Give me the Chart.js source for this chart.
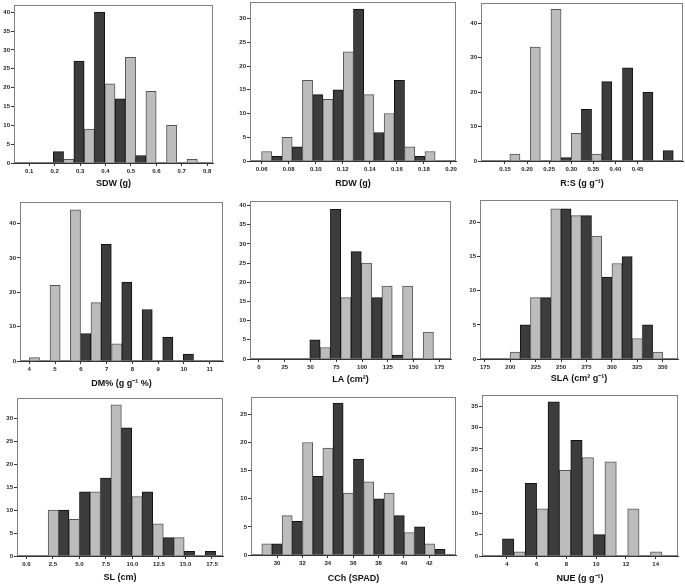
<!DOCTYPE html>
<html>
<head>
<meta charset="utf-8">
<script src="https://cdn.jsdelivr.net/npm/chart.js@4.4.1/dist/chart.umd.min.js"></script>
<style>
  html, body { margin: 0; padding: 0; background: #fff; overflow: hidden; }
  body { width: 685px; height: 584px; position: relative; }
  canvas { position: absolute; }
</style>
</head>
<body>
<script>
// bin centres and counts (dark = group 1, light = group 2)
const sdwBins = [0.235, 0.316, 0.397, 0.478, 0.559, 0.640, 0.721]
const sdwDark = [3, 27, 40, 17, 2, 0, 0]
const sdwLight = [1, 9, 21, 28, 19, 10, 1]
const sdwTicks = [0.1, 0.2, 0.3, 0.4, 0.5, 0.6, 0.7, 0.8]
const sdwYTicks = [0, 5, 10, 15, 20, 25, 30, 35, 40]

const rdwBins = [0.0675, 0.0826, 0.0977, 0.1128, 0.1279, 0.1430, 0.1581, 0.1732, 0.1883]
const rdwDark = [1, 3, 14, 15, 32, 6, 17, 1, 0]
const rdwLight = [2, 5, 17, 13, 23, 14, 10, 3, 2]
const rdwTicks = [0.06, 0.08, 0.10, 0.12, 0.14, 0.16, 0.18, 0.20]
const rdwYTicks = [0, 5, 10, 15, 20, 25, 30]

const rsBins = [0.184, 0.230, 0.277, 0.323, 0.369, 0.416, 0.462, 0.508]
const rsDark = [0, 0, 1, 15, 23, 27, 20, 3]
const rsLight = [2, 33, 44, 8, 2, 0, 0, 0]
const rsTicks = [0.15, 0.20, 0.25, 0.30, 0.35, 0.40, 0.45]
const rsYTicks = [0, 10, 20, 30, 40]

const dmBins = [4.40, 5.20, 5.99, 6.79, 7.59, 8.38, 9.18, 9.98]
const dmDark = [0, 0, 8, 34, 23, 15, 7, 2]
const dmLight = [1, 22, 44, 17, 5, 0, 0, 0]
const dmTicks = [4, 5, 6, 7, 8, 9, 10, 11]
const dmYTicks = [0, 10, 20, 30, 40]

const laBins = [59.3, 79.3, 99.3, 119.3, 139.3, 159.3]
const laDark = [5, 39, 28, 16, 1, 0]
const laLight = [3, 16, 25, 19, 19, 7]
const laTicks = [0, 25, 50, 75, 100, 125, 150, 175]
const laYTicks = [0, 5, 10, 15, 20, 25, 30, 35, 40]

const slaBins = [209.7, 229.8, 249.8, 269.9, 290.0, 310.0, 330.1, 350.2]
const slaDark = [5, 9, 22, 21, 12, 15, 5, 0]
const slaLight = [1, 9, 22, 21, 18, 14, 3, 1]
const slaTicks = [175, 200, 225, 250, 275, 300, 325, 350]
const slaYTicks = [0, 5, 10, 15, 20]

const slBins = [3.04, 5.01, 6.99, 8.96, 10.93, 12.91, 14.88, 16.86]
const slDark = [10, 14, 17, 28, 14, 4, 1, 1]
const slLight = [10, 8, 14, 33, 13, 7, 4, 0]
const slTicks = [0, 2.5, 5, 7.5, 10, 12.5, 15, 17.5]
const slYTicks = [0, 5, 10, 15, 20, 25, 30]

const cchBins = [29.60, 31.20, 32.81, 34.41, 36.02, 37.62, 39.23, 40.83, 42.44]
const cchDark = [2, 6, 14, 27, 17, 10, 7, 5, 1]
const cchLight = [2, 7, 20, 19, 11, 13, 11, 4, 2]
const cchTicks = [30, 32, 34, 36, 38, 40, 42]
const cchYTicks = [0, 5, 10, 15, 20, 25]

const nueBins = [4.47, 6.00, 7.53, 9.06, 10.59, 12.12, 13.65]
const nueDark = [4, 17, 36, 27, 5, 0, 0]
const nueLight = [1, 11, 20, 23, 22, 11, 1]
const nueTicks = [4, 6, 8, 10, 12, 14]
const nueYTicks = [0, 5, 10, 15, 20, 25, 30, 35]

const DARK = '#3c3c3c'
const DARK_EDGE = '#111'
const LIGHT = '#bcbcbc'
const LIGHT_EDGE = '#555'
const Y_W = 18

// box = plot frame [left, top, right, bottom] in page pixels, titleY = centre of axis title
const panels = [
  { title: 'SDW (g)', bins: sdwBins, dark: sdwDark, light: sdwLight, ticks: sdwTicks, yTicks: sdwYTicks,
    xMin: 0.04, xMax: 0.823, yMax: 41.9, dec: 1, darkFirst: true, box: [14, 5, 213, 163], titleY: 183 },
  { title: 'RDW (g)', bins: rdwBins, dark: rdwDark, light: rdwLight, ticks: rdwTicks, yTicks: rdwYTicks,
    xMin: 0.0514, xMax: 0.2037, yMax: 33.5, dec: 2, darkFirst: false, box: [250, 2, 456, 161], titleY: 183 },
  { title: 'R:S (g g\u207B\u00B9)', bins: rsBins, dark: rsDark, light: rsLight, ticks: rsTicks, yTicks: rsYTicks,
    xMin: 0.0957, xMax: 0.553, yMax: 45.8, dec: 2, darkFirst: false, box: [481, 3, 683, 161], titleY: 183 },
  { title: 'DM% (g g\u207B\u00B9 %)', bins: dmBins, dark: dmDark, light: dmLight, ticks: dmTicks, yTicks: dmYTicks,
    xMin: 3.64, xMax: 11.52, yMax: 46.3, dec: 0, darkFirst: false, box: [20, 202, 223, 361], titleY: 383 },
  { title: 'LA (cm\u00B2)', bins: laBins, dark: laDark, light: laLight, ticks: laTicks, yTicks: laYTicks,
    xMin: -8.7, xMax: 186.3, yMax: 41.2, dec: 0, darkFirst: true, box: [250, 201, 451, 359], titleY: 379 },
  { title: 'SLA (cm\u00B2 g\u207B\u00B9)', bins: slaBins, dark: slaDark, light: slaLight, ticks: slaTicks, yTicks: slaYTicks,
    xMin: 170.1, xMax: 365.1, yMax: 23.3, dec: 0, darkFirst: false, box: [480, 200, 678, 359], titleY: 378 },
  { title: 'SL (cm)', bins: slBins, dark: slDark, light: slLight, ticks: slTicks, yTicks: slYTicks,
    xMin: -0.88, xMax: 18.54, yMax: 34.5, dec: 1, darkFirst: false, box: [17, 398, 223, 556], titleY: 577 },
  { title: 'CCh (SPAD)', bins: cchBins, dark: cchDark, light: cchLight, ticks: cchTicks, yTicks: cchYTicks,
    xMin: 27.95, xMax: 44.1, yMax: 28.1, dec: 0, darkFirst: false, box: [251, 397, 456, 555], titleY: 578 },
  { title: 'NUE (g g\u207B\u00B9)', bins: nueBins, dark: nueDark, light: nueLight, ticks: nueTicks, yTicks: nueYTicks,
    xMin: 2.33, xMax: 15.5, yMax: 37.6, dec: 0, darkFirst: true, box: [482, 395, 678, 556], titleY: 578 },
]

// grey frame round the plot area, axis lines stay darker
const framePlugin = {
  id: 'frame',
  beforeDatasetsDraw(chart) {
    const { ctx, chartArea: a } = chart
    ctx.save()
    ctx.strokeStyle = '#808080'
    ctx.lineWidth = 1
    ctx.strokeRect(Math.round(a.left) + 0.5, Math.round(a.top) + 0.5,
      Math.round(a.right - a.left) - 1, Math.round(a.bottom - a.top) - 1)
    ctx.restore()
  }
}

const tickFont = { family: '"Liberation Sans", Arial, sans-serif', size: 6, weight: 'bold' }

function makePanel(p) {
  const [L, T, R, B] = p.box
  const left = L - Y_W
  const top = T - 1
  const width = R + 1 - left
  const bottom = p.titleY + 6
  const height = bottom - top
  const xAxisH = bottom - B

  const canvas = document.createElement('canvas')
  canvas.width = width
  canvas.height = height
  canvas.style.left = left + 'px'
  canvas.style.top = top + 'px'
  canvas.style.width = width + 'px'
  canvas.style.height = height + 'px'
  document.body.appendChild(canvas)

  const darkSet = {
    label: 'dark',
    data: p.bins.map((x, i) => ({ x, y: p.dark[i] })),
    backgroundColor: DARK,
    borderColor: DARK_EDGE,
    borderWidth: 1,
  }
  const lightSet = {
    label: 'light',
    data: p.bins.map((x, i) => ({ x, y: p.light[i] })),
    backgroundColor: LIGHT,
    borderColor: LIGHT_EDGE,
    borderWidth: 1,
  }

  return new Chart(canvas, {
    type: 'bar',
    data: { datasets: p.darkFirst ? [darkSet, lightSet] : [lightSet, darkSet] },
    options: {
      responsive: false,
      animation: false,
      events: [],
      categoryPercentage: 1,
      barPercentage: 1,
      layout: { padding: { top: 1, right: 1, left: 0, bottom: 0 } },
      plugins: { legend: { display: false }, tooltip: { enabled: false } },
      scales: {
        x: {
          type: 'linear',
          min: p.xMin,
          max: p.xMax,
          bounds: 'data',
          offset: false,
          grid: { display: true, drawOnChartArea: false, offset: false, tickLength: 3, color: '#333' },
          border: { display: true, color: '#333' },
          ticks: {
            font: tickFont, color: '#222', padding: 2, maxRotation: 0, autoSkip: false,
            callback: v => Number(v).toFixed(p.dec)
          },
          title: {
            display: true, text: p.title, color: '#111',
            font: { family: '"Liberation Sans", Arial, sans-serif', size: 9, weight: 'bold' },
            padding: { top: 0, bottom: 0 }
          },
          afterBuildTicks: s => { s.ticks = p.ticks.map(v => ({ value: v })) },
          afterFit: s => { s.height = xAxisH; s.paddingLeft = 0; s.paddingRight = 0 }
        },
        y: {
          min: 0,
          max: p.yMax,
          grid: { display: true, drawOnChartArea: false, tickLength: 3, color: '#333' },
          border: { display: true, color: '#333' },
          ticks: { font: tickFont, color: '#222', padding: 1, callback: v => String(v) },
          afterBuildTicks: s => { s.ticks = p.yTicks.map(v => ({ value: v })) },
          afterFit: s => { s.width = Y_W; s.paddingTop = 0; s.paddingBottom = 0 }
        }
      }
    },
    plugins: [framePlugin]
  })
}

panels.forEach(makePanel)
</script>
</body>
</html>
